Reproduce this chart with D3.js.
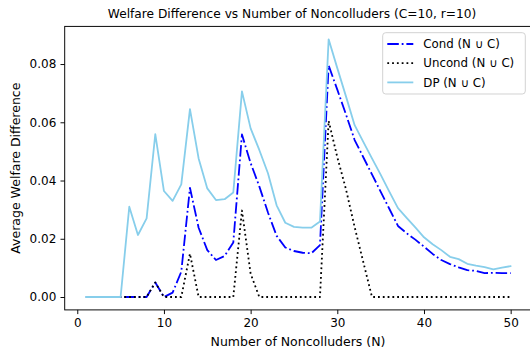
<!DOCTYPE html>
<html>
<head>
<meta charset="utf-8">
<script src="https://cdn.jsdelivr.net/npm/d3@7"></script>
<style>
	body { margin: 0; background: #fff; }
	svg { display: block; font-family: "DejaVu Sans", sans-serif; }
</style>
</head>
<body>
<div class="c-svg"></div>
<script>
//DATA
//-------------------------------------------------------------------------
const nValues = d3.range(1, 51);

const condValues = [
	0, 0, 0, 0, 0, 0, 0, 0, 0.005, 0,
	0.0015, 0.0087, 0.0375, 0.0238, 0.0161, 0.0127, 0.0141, 0.0187, 0.0558, 0.046,
	0.038, 0.029, 0.021, 0.017, 0.0158, 0.0152, 0.015, 0.0178, 0.0795, 0.0712,
	0.0627, 0.0539, 0.048, 0.0421, 0.0362, 0.0303, 0.0244, 0.0219, 0.0197, 0.0173,
	0.0148, 0.0127, 0.0113, 0.0102, 0.0092, 0.009, 0.0082, 0.0083, 0.0082, 0.0082
];

const uncondValues = [
	0, 0, 0, 0, 0, 0, 0, 0, 0.005, 0,
	0, 0, 0.0149, 0, 0, 0, 0, 0, 0.0297, 0.008,
	0, 0, 0, 0, 0, 0, 0, 0, 0.0605, 0.048,
	0.037, 0.024, 0.012, 0, 0, 0, 0, 0, 0, 0,
	0, 0, 0, 0, 0, 0, 0, 0, 0, 0
];

const dpValues = [
	0, 0, 0, 0, 0, 0.031, 0.0213, 0.027, 0.0559, 0.0364,
	0.033, 0.0387, 0.0645, 0.0476, 0.0373, 0.0333, 0.0336, 0.0359, 0.0706, 0.0579,
	0.0505, 0.0425, 0.0315, 0.0255, 0.0241, 0.0238, 0.0238, 0.0259, 0.0885, 0.0786,
	0.0689, 0.059, 0.0533, 0.0476, 0.042, 0.0362, 0.0305, 0.0272, 0.0239, 0.0205,
	0.0181, 0.0161, 0.0138, 0.013, 0.0114, 0.0108, 0.0103, 0.0095, 0.0101, 0.0106
];

const xTicks = [0, 10, 20, 30, 40, 50];
const yTicks = [0, 0.02, 0.04, 0.06, 0.08];

const seriesNames = ["Cond (N \u222A C)", "Uncond (N \u222A C)", "DP (N \u222A C)"];

//opts
const opts = {
	width: 530,
	height: 353,
	left: 64.7,
	right: 531.9,
	top: 26.4,
	bottom: 309.9
};

const series = [
	{ name: seriesNames[0], values: condValues, color: "#0000ff", dash: "11.5,2.9,1.8,2.9" },
	{ name: seriesNames[1], values: uncondValues, color: "#000000", dash: "1.8,3" },
	{ name: seriesNames[2], values: dpValues, color: "#87ceeb", dash: null }
];

//SVG
//-------------------------------------------------------------------------
const svg = d3.select(".c-svg")
	.append("svg")
	.attr("width", opts.width)
	.attr("height", opts.height);

//scales, with matplotlib style 5% margins
const xMin = 1 - 0.05 * 49, xMax = 50 + 0.05 * 49;
const x = d3.scaleLinear()
	.domain([xMin, xMax])
	.range([opts.left, opts.right]);

const yMaxData = d3.max(dpValues);
const y = d3.scaleLinear()
	.domain([-0.05 * yMaxData, yMaxData * 1.05])
	.range([opts.bottom, opts.top]);

//lines
const line = d3.line()
	.x((d, i) => x(nValues[i]))
	.y(d => y(d));

const lines = svg.append("g").attr("class", "c-lines");

lines.selectAll("path")
	.data(series)
	.join("path")
	.attr("d", d => line(d.values))
	.attr("fill", "none")
	.attr("stroke", d => d.color)
	.attr("stroke-width", 1.8)
	.attr("stroke-dasharray", d => d.dash)
	.attr("stroke-linecap", d => d.dash ? "butt" : "round")
	.attr("stroke-linejoin", "round");

//axes
const xAxis = svg.append("g")
	.attr("transform", `translate(0 ${opts.bottom})`)
	.call(d3.axisBottom(x).tickValues(xTicks).tickFormat(d3.format("d")).tickSizeOuter(0).tickSize(4.2).tickPadding(4));

const yAxis = svg.append("g")
	.attr("transform", `translate(${opts.left} 0)`)
	.call(d3.axisLeft(y).tickValues(yTicks).tickFormat(d3.format(".2f")).tickSizeOuter(0).tickSize(4.2).tickPadding(4.2));

[xAxis, yAxis].forEach(a => {
	a.select(".domain").remove();
	a.selectAll("line").attr("stroke", "#000").attr("stroke-width", 0.96);
	a.selectAll("text")
		.attr("fill", "#000")
		.style("font-family", "DejaVu Sans")
		.style("font-size", "12px");
});

//frame
svg.append("rect")
	.attr("x", opts.left)
	.attr("y", opts.top)
	.attr("width", opts.right - opts.left)
	.attr("height", opts.bottom - opts.top)
	.attr("fill", "none")
	.attr("stroke", "#000")
	.attr("stroke-width", 0.96);

//labels
svg.append("text")
	.attr("x", 298)
	.attr("y", 346)
	.attr("text-anchor", "middle")
	.style("font-size", "12.5px")
	.text("Number of Noncolluders (N)");

svg.append("text")
	.attr("transform", `translate(20 ${(opts.top + opts.bottom) / 2}) rotate(-90)`)
	.attr("text-anchor", "middle")
	.style("font-size", "12.5px")
	.text("Average Welfare Difference");

svg.append("text")
	.attr("x", 292)
	.attr("y", 18)
	.attr("text-anchor", "middle")
	.style("font-size", "12.2px")
	.text("Welfare Difference vs Number of Noncolluders (C=10, r=10)");

//LEGEND
//-------------------------------------------------------------------------
const legend = svg.append("g").attr("class", "c-legend");

legend.append("rect")
	.attr("x", 382.7)
	.attr("y", 32.7)
	.attr("width", 142.6)
	.attr("height", 61.3)
	.attr("rx", 3)
	.attr("fill", "#fff")
	.attr("fill-opacity", 0.8)
	.attr("stroke", "#d0d0d0")
	.attr("stroke-width", 0.96);

const items = legend.selectAll(".item")
	.data(series)
	.join("g")
	.attr("class", "item")
	.attr("transform", (d, i) => `translate(0 ${44 + i * 19.2})`);

items.append("line")
	.attr("x1", 387.3)
	.attr("x2", 413.3)
	.attr("stroke", d => d.color)
	.attr("stroke-width", 1.8)
	.attr("stroke-dasharray", d => d.dash);

items.append("text")
	.attr("x", 423.3)
	.attr("dy", "0.35em")
	.style("font-size", "11.8px")
	.text(d => d.name);
</script>
</body>
</html>
